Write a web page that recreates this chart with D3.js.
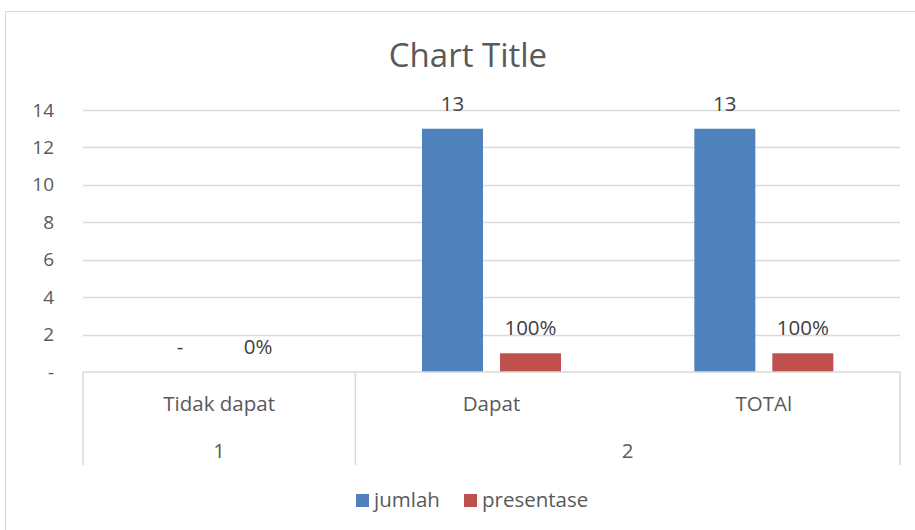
<!DOCTYPE html>
<html>
<head>
<meta charset="utf-8">
<script src="https://cdn.jsdelivr.net/npm/d3@7"></script>
<style>
  body { margin: 0; background: #fff; }
  svg { font-family: 'Open Sans', 'Noto Sans', sans-serif; }
</style>
</head>
<body>
<div id="chart"></div>
<script>
// data
const categories = ['Tidak dapat', 'Dapat', 'TOTAl'];
const groups = [{ label: '1', span: 1 }, { label: '2', span: 2 }];
const seriesNames = ['jumlah', 'presentase'];
const jumlah = [0, 13, 13];
const presentase = [0, 1, 1];
const yTicks = [0, 2, 4, 6, 8, 10, 12, 14];

const width = 915, height = 530;
const plot = { left: 83, right: 900, top: 110, bottom: 372 };
const colors = { jumlah: '#4F81BD', presentase: '#C0504D' };
const textColor = '#595959';

const svg = d3.select('#chart').append('svg')
  .attr('width', width).attr('height', height);

// chart area border (runs off the window on the right and bottom)
svg.append('rect')
  .attr('x', 5.5).attr('y', 11.5)
  .attr('width', 1000).attr('height', 600)
  .attr('fill', '#fff').attr('stroke', '#D9D9D9');

svg.append('text')
  .attr('x', 468).attr('y', 67)
  .attr('text-anchor', 'middle')
  .attr('fill', textColor)
  .style('font-size', '33px')
  .text('Chart Title');

const y = d3.scaleLinear().domain([0, 14]).range([plot.bottom, plot.top]);
const x0 = d3.scaleBand().domain(categories).range([plot.left, plot.right]);
const bw = x0.bandwidth();
const cluster = 139;
const x1 = d3.scaleBand().domain(seriesNames)
  .range([(bw - cluster) / 2, (bw + cluster) / 2])
  .paddingInner(0.218);

// gridlines
svg.append('g').selectAll('line')
  .data(yTicks.filter(d => d > 0))
  .join('line')
  .attr('x1', plot.left).attr('x2', plot.right)
  .attr('y1', d => Math.round(y(d)) + 0.5).attr('y2', d => Math.round(y(d)) + 0.5)
  .attr('stroke', '#D9D9D9').attr('stroke-width', 1.5);

// y axis labels
const yAxis = svg.append('g')
  .attr('transform', `translate(${plot.left},0)`)
  .call(d3.axisLeft(y).tickValues(yTicks).tickSize(0).tickPadding(29)
    .tickFormat(d => d === 0 ? '-' : d));
yAxis.select('.domain').remove();
yAxis.selectAll('text')
  .attr('fill', textColor)
  .style('font-size', '19px')
  .style('font-family', "'Open Sans', sans-serif");

// bars
const rows = categories.map((c, i) => ({ cat: c, jumlah: jumlah[i], presentase: presentase[i] }));
const cg = svg.append('g').selectAll('g')
  .data(rows).join('g')
  .attr('transform', d => `translate(${x0(d.cat)},0)`);

cg.selectAll('rect')
  .data(d => seriesNames.map(k => ({ key: k, value: d[k] })))
  .join('rect')
  .attr('x', d => x1(d.key))
  .attr('width', x1.bandwidth())
  .attr('y', d => y(d.value))
  .attr('height', d => y(0) - y(d.value))
  .attr('fill', d => colors[d.key]);

// data labels
cg.selectAll('text')
  .data(d => seriesNames.map(k => ({ key: k, value: d[k] })))
  .join('text')
  .attr('x', d => x1(d.key) + x1.bandwidth() / 2)
  .attr('y', d => y(d.value) - 18)
  .attr('text-anchor', 'middle')
  .attr('fill', '#404040')
  .style('font-size', '20.5px')
  .text(d => d.key === 'presentase' ? d3.format('.0%')(d.value) : (d.value === 0 ? '-' : d.value));

// category axis: baseline, separators, labels
const axis = svg.append('g').attr('stroke', '#D9D9D9').attr('stroke-width', 1.5);
axis.append('line')
  .attr('x1', plot.left).attr('x2', plot.right)
  .attr('y1', plot.bottom).attr('y2', plot.bottom);

let idx = 0;
const groupBounds = groups.map(g => {
  const start = x0(categories[idx]);
  const end = x0(categories[idx + g.span - 1]) + bw;
  idx += g.span;
  return { label: g.label, start, end };
});
const seps = [plot.left].concat(groupBounds.map(g => g.end));
axis.selectAll('.sep')
  .data(seps).join('line')
  .attr('x1', d => d).attr('x2', d => d)
  .attr('y1', plot.bottom).attr('y2', 465);

svg.append('g').selectAll('text')
  .data(categories).join('text')
  .attr('x', d => x0(d) + bw / 2)
  .attr('y', 411)
  .attr('text-anchor', 'middle')
  .attr('fill', textColor)
  .style('font-size', '20.5px')
  .text(d => d);

svg.append('g').selectAll('text')
  .data(groupBounds).join('text')
  .attr('x', d => (d.start + d.end) / 2)
  .attr('y', 458)
  .attr('text-anchor', 'middle')
  .attr('fill', textColor)
  .style('font-size', '20.5px')
  .text(d => d.label);

// legend
const legendX = [356, 464];
const lg = svg.append('g').selectAll('g')
  .data(seriesNames).join('g')
  .attr('transform', (d, i) => `translate(${legendX[i]},494)`);
lg.append('rect')
  .attr('width', 13).attr('height', 13)
  .attr('fill', d => colors[d]);
lg.append('text')
  .attr('x', 18).attr('y', 13)
  .attr('fill', textColor)
  .style('font-size', '20.5px')
  .text(d => d);
</script>
</body>
</html>
